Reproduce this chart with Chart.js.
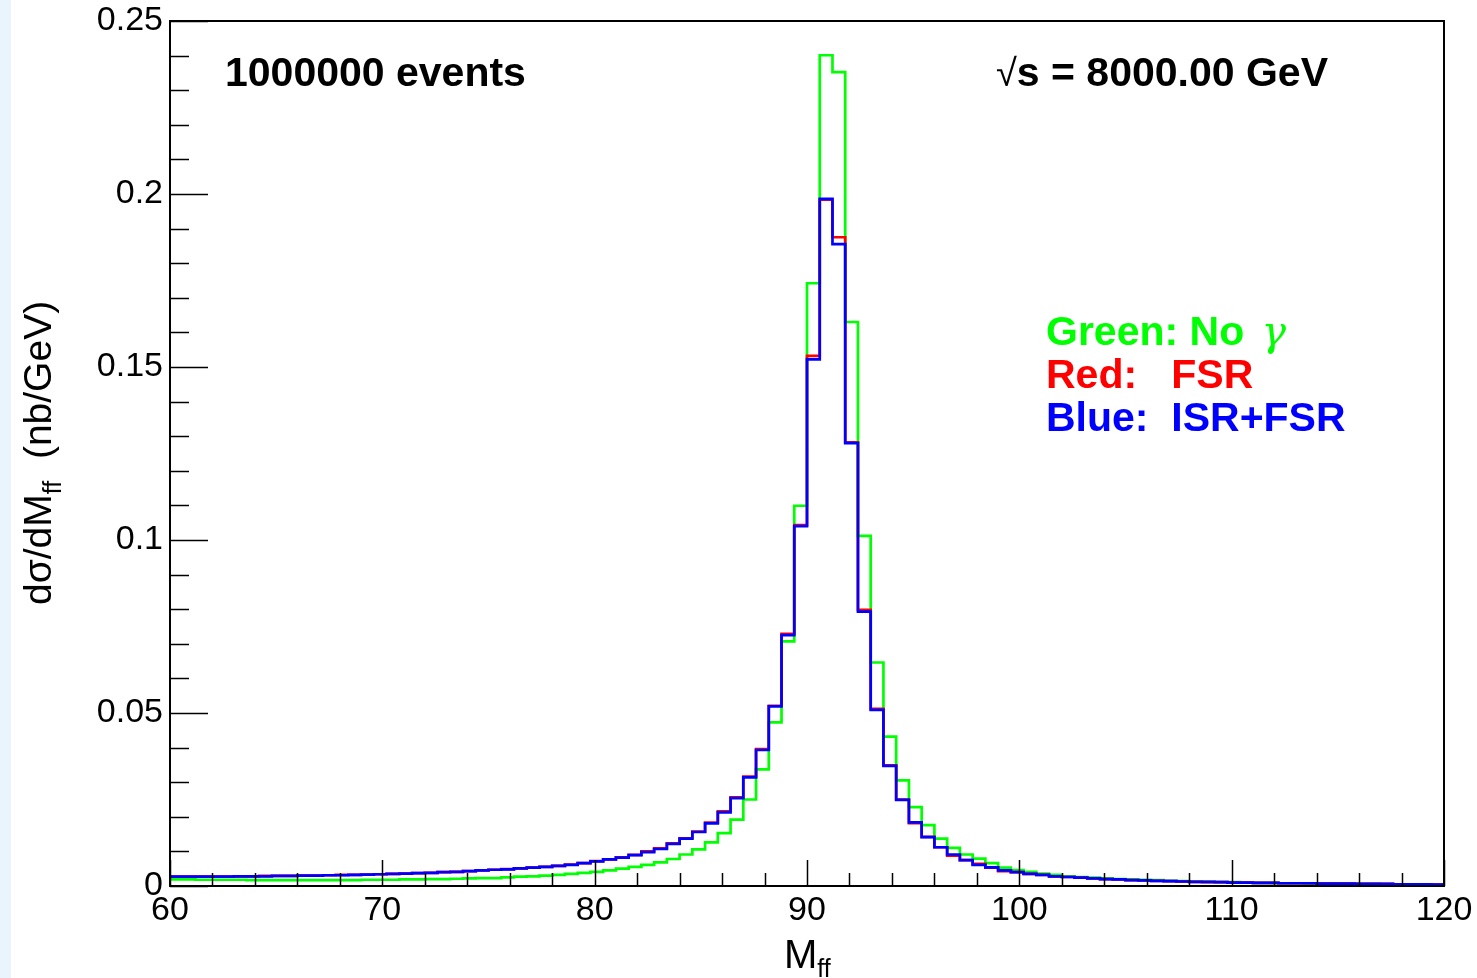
<!DOCTYPE html>
<html>
<head>
<meta charset="utf-8">
<script src="https://cdn.jsdelivr.net/npm/chart.js@4.4.1/dist/chart.umd.min.js"></script>
<style>
  body { margin: 0; background: #fff; font-family: "Liberation Sans", Arial, sans-serif; }
  #wrap { position: relative; width: 1477px; height: 978px; overflow: hidden; }
  #strip { position: absolute; left: 0; top: 0; width: 11px; height: 978px; background: #eaf4fd; }
  #box { position: absolute; left: 0; top: 0; width: 1477px; height: 978px; }
  .txt { position: absolute; white-space: pre; font-weight: bold; font-size: 41px; line-height: 41px; }
  .gam { font-family: "DejaVu Serif", serif; font-style: italic; font-weight: normal; margin-left: 6px; }
  .rt { font-weight: normal; font-size: 38px; }
  #ytitle { position: absolute; left: 18px; top: 605px; font-size: 39px; line-height: 40px;
            white-space: pre; transform-origin: 0 0; transform: rotate(-90deg); }
  #xtitle { position: absolute; left: 784px; top: 934px; font-size: 40px; line-height: 40px; white-space: pre; }
  .sub { position: relative; font-size: 25px; }
</style>
</head>
<body>
<div id="wrap">
  <div id="strip"></div>
  <div id="box"><canvas id="chart"></canvas></div>
  <div class="txt" style="left:225px; top:52px;">1000000 events</div>
  <div class="txt" style="right:149px; top:52px;"><span class="rt">√</span>s = 8000.00 GeV</div>
  <div class="txt" style="left:1046px; top:311px; color:#00ff00;">Green: No <span class="gam">γ</span></div>
  <div class="txt" style="left:1046px; top:354px; color:#ff0000;">Red:   FSR</div>
  <div class="txt" style="left:1046px; top:397px; color:#0000ff;">Blue:  ISR+FSR</div>
  <div id="ytitle">dσ/dM<span class="sub" style="top:10px;">ff</span>  (nb/GeV)</div>
  <div id="xtitle">M<span class="sub" style="top:9px;">ff</span></div>
</div>
<script>
// histogram binning: 100 bins of 0.6 GeV from 60 to 120
const xMin = 60, xMax = 120, nBins = 100;
const xTicks = [60, 70, 80, 90, 100, 110, 120];
const yTicks = [0, 0.05, 0.1, 0.15, 0.2, 0.25];

// no photons
const greenVals = [
  0.0019, 0.0019, 0.0018, 0.0018, 0.0018, 0.0018, 0.0017, 0.0017, 0.0017, 0.0017,
  0.0017, 0.0017, 0.0017, 0.0017, 0.0017, 0.0018, 0.0018, 0.0018, 0.0019, 0.0019,
  0.0020, 0.0020, 0.0021, 0.0022, 0.0023, 0.0023, 0.0025, 0.0027, 0.0028, 0.0030,
  0.0032, 0.0035, 0.0038, 0.0041, 0.0045, 0.0050, 0.0055, 0.0061, 0.0068, 0.0078,
  0.0091, 0.0106, 0.0126, 0.0153, 0.0192, 0.0250, 0.0337, 0.0473, 0.0707, 0.1099,
  0.1742, 0.2401, 0.2352, 0.1630, 0.1012, 0.0646, 0.0432, 0.0305, 0.0228, 0.0176,
  0.0137, 0.0110, 0.0091, 0.0079, 0.0066, 0.0053, 0.0046, 0.0041, 0.0036, 0.0032,
  0.0028, 0.0026, 0.0024, 0.0022, 0.0020, 0.0019, 0.0018, 0.0017, 0.0015, 0.0014,
  0.0013, 0.0012, 0.0011, 0.0011, 0.0010, 0.0009, 0.0009, 0.0008, 0.0008, 0.0007,
  0.0007, 0.0007, 0.0006, 0.0006, 0.0006, 0.0005, 0.0005, 0.0005, 0.0004, 0.0004
];
// FSR
const redVals = [
  0.0027, 0.0027, 0.0027, 0.0027, 0.0027, 0.0028, 0.0028, 0.0029, 0.0029, 0.0029,
  0.0030, 0.0030, 0.0031, 0.0032, 0.0032, 0.0033, 0.0034, 0.0035, 0.0036, 0.0037,
  0.0038, 0.0040, 0.0041, 0.0043, 0.0045, 0.0047, 0.0049, 0.0051, 0.0053, 0.0055,
  0.0058, 0.0062, 0.0066, 0.0072, 0.0077, 0.0083, 0.0090, 0.0100, 0.0109, 0.0123,
  0.0138, 0.0157, 0.0183, 0.0216, 0.0256, 0.0316, 0.0396, 0.0521, 0.0729, 0.1043,
  0.1532, 0.1984, 0.1875, 0.1282, 0.0798, 0.0512, 0.0349, 0.0250, 0.0182, 0.0142,
  0.0112, 0.0088, 0.0075, 0.0064, 0.0053, 0.0043, 0.0040, 0.0035, 0.0032, 0.0028,
  0.0026, 0.0024, 0.0022, 0.0020, 0.0019, 0.0017, 0.0016, 0.0015, 0.0014, 0.0013,
  0.0012, 0.0011, 0.0011, 0.0010, 0.0010, 0.0009, 0.0009, 0.0008, 0.0008, 0.0008,
  0.0007, 0.0007, 0.0007, 0.0006, 0.0006, 0.0006, 0.0005, 0.0005, 0.0005, 0.0004
];
// ISR + FSR
const blueVals = [
  0.0027, 0.0027, 0.0027, 0.0027, 0.0027, 0.0028, 0.0028, 0.0028, 0.0029, 0.0029,
  0.0030, 0.0030, 0.0031, 0.0031, 0.0032, 0.0033, 0.0034, 0.0035, 0.0036, 0.0037,
  0.0038, 0.0040, 0.0041, 0.0043, 0.0045, 0.0047, 0.0048, 0.0051, 0.0053, 0.0055,
  0.0058, 0.0061, 0.0066, 0.0071, 0.0077, 0.0082, 0.0089, 0.0098, 0.0107, 0.0122,
  0.0137, 0.0156, 0.0181, 0.0213, 0.0254, 0.0314, 0.0393, 0.0519, 0.0725, 0.1040,
  0.1522, 0.1986, 0.1855, 0.1280, 0.0793, 0.0509, 0.0347, 0.0249, 0.0184, 0.0141,
  0.0112, 0.0091, 0.0075, 0.0061, 0.0054, 0.0045, 0.0040, 0.0035, 0.0032, 0.0028,
  0.0026, 0.0024, 0.0022, 0.0020, 0.0019, 0.0017, 0.0016, 0.0015, 0.0014, 0.0013,
  0.0012, 0.0012, 0.0011, 0.0010, 0.0010, 0.0009, 0.0009, 0.0008, 0.0008, 0.0008,
  0.0007, 0.0007, 0.0007, 0.0006, 0.0006, 0.0006, 0.0005, 0.0005, 0.0005, 0.0004
];

const binWidth = (xMax - xMin) / nBins;
const edges = Array.from({length: nBins + 1}, (_, i) => xMin + i * binWidth);

// one point per low edge + closing point at xMax, drawn as steps
function histPoints(vals) {
  const pts = vals.map((v, i) => ({x: edges[i], y: v}));
  pts.push({x: edges[nBins], y: vals[nBins - 1]});
  return pts;
}

const fontFam = '"Liberation Sans", Arial, sans-serif';

// ROOT style frame with inward ticks
const frameTicks = {
  id: 'frameTicks',
  afterDraw(chart) {
    const {ctx, chartArea: a, scales: {x, y}} = chart;
    ctx.save();
    ctx.strokeStyle = '#000';
    ctx.lineWidth = 2;
    ctx.strokeRect(a.left, a.top, a.right - a.left, a.bottom - a.top);
    ctx.lineWidth = 1.5;
    ctx.beginPath();
    for (let v = xMin; v <= xMax; v += 2) {
      const px = Math.round(x.getPixelForValue(v)) + 0.5;
      const len = xTicks.includes(v) ? 26 : 13;
      ctx.moveTo(px, a.bottom);
      ctx.lineTo(px, a.bottom - len);
    }
    for (let i = 0; i <= 25; i++) {
      const py = Math.round(y.getPixelForValue(i * 0.01)) + 0.5;
      const len = i % 5 === 0 ? 38 : 19;
      ctx.moveTo(a.left, py);
      ctx.lineTo(a.left + len, py);
    }
    ctx.stroke();
    ctx.restore();
  }
};

function histSet(label, vals, color, order) {
  return {
    label: label,
    data: histPoints(vals),
    borderColor: color,
    borderWidth: 2.7,
    pointRadius: 0,
    stepped: 'before',
    fill: false,
    order: order
  };
}

new Chart(document.getElementById('chart'), {
  type: 'line',
  data: {
    datasets: [
      histSet('Green: No γ', greenVals, '#00ff00', 3),
      histSet('Red: FSR', redVals, '#ff0000', 2),
      histSet('Blue: ISR+FSR', blueVals, '#0000ff', 1)
    ]
  },
  options: {
    responsive: true,
    maintainAspectRatio: false,
    animation: false,
    layout: {padding: {left: 0, right: 33, top: 21, bottom: 0}},
    plugins: {legend: {display: false}, tooltip: {enabled: false}},
    scales: {
      x: {
        type: 'linear', min: xMin, max: xMax,
        afterBuildTicks: s => { s.ticks = xTicks.map(v => ({value: v})); },
        afterFit: s => { s.height = 92; s.paddingLeft = 0; s.paddingRight = 0; },
        grid: {display: false, drawTicks: false}, border: {display: false},
        ticks: {color: '#000', font: {family: fontFam, size: 34}, padding: 4, maxRotation: 0, autoSkip: false}
      },
      y: {
        type: 'linear', min: 0, max: 0.25,
        afterBuildTicks: s => { s.ticks = yTicks.map(v => ({value: v})); },
        afterFit: s => { s.width = 170; s.paddingTop = 0; s.paddingBottom = 0; },
        grid: {display: false, drawTicks: false}, border: {display: false},
        ticks: {color: '#000', font: {family: fontFam, size: 34}, padding: 7,
                callback: v => String(+v.toFixed(2))}
      }
    }
  },
  plugins: [frameTicks]
});
</script>
</body>
</html>
